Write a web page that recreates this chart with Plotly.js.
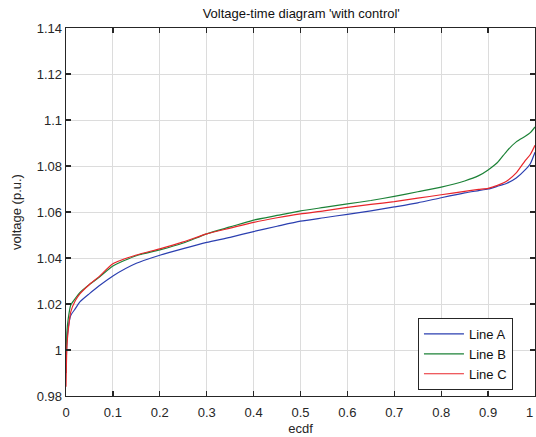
<!DOCTYPE html>
<html>
<head>
<meta charset="utf-8">
<script src="https://cdn.plot.ly/plotly-3.0.1.min.js"></script>
<style>html,body{margin:0;padding:0;background:#fff;}#chart{width:536px;height:437px;}</style>
</head>
<body>
<div id="chart"></div>
<script>
const ecdf = [0, 0.002, 0.005, 0.01, 0.02, 0.03, 0.05, 0.07, 0.1, 0.15, 0.2, 0.25, 0.3, 0.35, 0.4, 0.45, 0.5, 0.55, 0.6, 0.65, 0.7, 0.75, 0.8, 0.85, 0.88, 0.9, 0.92, 0.94, 0.96, 0.98, 0.99, 1.0];
const lineA = [0.99, 1.004, 1.010, 1.015, 1.018, 1.021, 1.0245, 1.0278, 1.0322, 1.0377, 1.0412, 1.0441, 1.0468, 1.049, 1.0515, 1.0538, 1.056, 1.0575, 1.059, 1.0605, 1.0622, 1.064, 1.0662, 1.0683, 1.0693, 1.0700, 1.0712, 1.0725, 1.0748, 1.0785, 1.081, 1.086];
const lineB = [0.99, 1.008, 1.014, 1.0195, 1.0225, 1.025, 1.0285, 1.0315, 1.0365, 1.041, 1.0435, 1.0465, 1.0505, 1.0535, 1.0565, 1.0585, 1.0605, 1.062, 1.0635, 1.065, 1.0668, 1.0688, 1.0708, 1.0735, 1.0758, 1.0783, 1.0815, 1.0865, 1.0905, 1.093, 1.0945, 1.097];
const lineC = [0.984, 1.002, 1.009, 1.0165, 1.0215, 1.0245, 1.0285, 1.0318, 1.0375, 1.0413, 1.044, 1.047, 1.0505, 1.053, 1.0555, 1.0575, 1.0592, 1.0605, 1.062, 1.0633, 1.0645, 1.066, 1.0675, 1.069, 1.0698, 1.0703, 1.0716, 1.0735, 1.077, 1.0826, 1.085, 1.089];
const seriesNames = ['Line A', 'Line B', 'Line C'];
const xTickVals = [0, 0.1, 0.2, 0.3, 0.4, 0.5, 0.6, 0.7, 0.8, 0.9, 1];
const xTickText = ['0', '0.1', '0.2', '0.3', '0.4', '0.5', '0.6', '0.7', '0.8', '0.9', '1'];
const yTickVals = [0.98, 1.0, 1.02, 1.04, 1.06, 1.08, 1.1, 1.12, 1.14];
const yTickText = ['0.98', '1', '1.02', '1.04', '1.06', '1.08', '1.1', '1.12', '1.14'];

const colors = ['#2b3fb0', '#1c8237', '#e8262b'];
const ys = [lineA, lineB, lineC];
const traces = ys.map((y, i) => ({
  x: ecdf, y: y, type: 'scatter', mode: 'lines', name: seriesNames[i],
  line: {color: colors[i], width: 1.2, shape: 'spline', smoothing: 0.6}
}));

const font = {family: 'Liberation Sans, Arial, sans-serif', size: 13, color: '#262626'};
const axisCommon = {
  showline: true, mirror: 'ticks', linecolor: '#262626', linewidth: 1.3,
  ticks: 'inside', ticklen: 5, tickwidth: 1.3, tickcolor: '#262626',
  showgrid: true, gridcolor: '#dcdcdc', gridwidth: 1, zeroline: false,
  tickfont: font
};
// last x tick label sits at the window edge; draw it as an annotation nudged inwards
const xTickTextShown = xTickText.map((t, i) => i === xTickText.length - 1 ? '' : t);
const layout = {
  width: 536, height: 437,
  margin: {l: 66, r: 1, t: 28, b: 41},
  paper_bgcolor: '#ffffff', plot_bgcolor: '#ffffff',
  font: font,
  showlegend: true,
  title: {text: "Voltage-time diagram 'with control'", font: {family: font.family, size: 13, color: '#111'}, x: 0.562, xanchor: 'center', y: 0.97, yanchor: 'middle'},
  xaxis: Object.assign({}, axisCommon, {
    range: [0, 1], tickvals: xTickVals, ticktext: xTickTextShown, ticklabelstandoff: 4,
    title: {text: 'ecdf', font: {family: font.family, size: 13, color: '#262626'}, standoff: 5}
  }),
  yaxis: Object.assign({}, axisCommon, {
    range: [0.98, 1.14], tickvals: yTickVals, ticktext: yTickText,
    title: {text: 'voltage (p.u.)', font: {family: font.family, size: 13, color: '#262626'}, standoff: 12}
  }),
  annotations: [{
    text: xTickText[xTickText.length - 1], xref: 'paper', yref: 'paper',
    x: 1, y: 0, xanchor: 'right', yanchor: 'top', xshift: 0, yshift: -7,
    showarrow: false, font: font
  }],
  legend: {
    x: 0.953, y: 0.0163, xanchor: 'right', yanchor: 'bottom',
    bgcolor: '#ffffff', bordercolor: '#262626', borderwidth: 1,
    font: {family: font.family, size: 13, color: '#111'},
    itemwidth: 40, tracegroupgap: 0
  }
};
Plotly.newPlot('chart', traces, layout, {staticPlot: true, displayModeBar: false});
</script>
</body>
</html>
